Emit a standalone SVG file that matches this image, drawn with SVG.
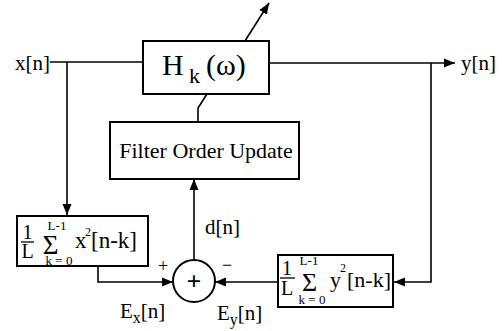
<svg xmlns="http://www.w3.org/2000/svg" width="502" height="331" viewBox="0 0 502 331">
<style>
.box{fill:#fff;stroke:#000;stroke-width:2}
.ln{fill:none;stroke:#000;stroke-width:1.6}
text{font-family:'Liberation Serif','Times New Roman',serif;fill:#000}
.t{font-size:21px}
.sm{font-size:13px}
</style>
<defs>
<marker id="ar" markerUnits="userSpaceOnUse" markerWidth="12" markerHeight="10" refX="11" refY="5" orient="auto">
<path d="M0,0.5 L11,5 L0,9.5 Z" fill="#000"/>
</marker>
</defs>
<rect width="502" height="331" fill="#fff"/>
<g id="connectors">
<path class="ln" d="M50,62 H143"/>
<path class="ln" d="M67,62 V215" marker-end="url(#ar)"/>
<path class="ln" d="M269,63 H455" marker-end="url(#ar)"/>
<path class="ln" d="M431,63 V282 H394" marker-end="url(#ar)"/>
<path class="ln" d="M278,282 H215" marker-end="url(#ar)"/>
<path class="ln" d="M98,266 V282 H173" marker-end="url(#ar)"/>
<path class="ln" d="M194,260 V179" marker-end="url(#ar)"/>
<path class="ln" d="M207,94 L198,108 V122"/>
<path class="ln" d="M245,41 L269,3" marker-end="url(#ar)"/>
</g>
<g id="input"><text class="t" x="15" y="70">x[n]</text></g>
<g id="output"><text class="t" x="461" y="70">y[n]</text></g>
<g id="filter">
<rect class="box" x="143" y="41" width="126" height="53"/>
<text x="162" y="75" font-size="30">H</text>
<text x="189" y="83" font-size="22">k</text>
<text x="206" y="75" font-size="30">(ω)</text>
</g>
<g id="update">
<rect class="box" x="110" y="122" width="189" height="57"/>
<text x="206" y="158" font-size="22" text-anchor="middle">Filter Order Update</text>
</g>
<g id="xpower">
<rect class="box" x="17" y="216" width="131" height="50"/>
<text x="27.5" y="239" font-size="20" text-anchor="middle">1</text>
<line x1="21" y1="242" x2="34" y2="242" stroke="#000" stroke-width="1.3"/>
<text x="27.5" y="258" font-size="20" text-anchor="middle">L</text>
<text x="50.5" y="254" font-size="27" text-anchor="middle">Σ</text>
<text x="57" y="230" class="sm" text-anchor="middle">L-1</text>
<text x="59" y="265" class="sm" text-anchor="middle">k = 0</text>
<text x="75" y="248" font-size="23">x</text>
<text x="85" y="236" font-size="12">2</text>
<text x="91" y="248" font-size="23">[n-k]</text>
</g>
<g id="ypower">
<rect class="box" x="278" y="255" width="115" height="52"/>
<text x="287" y="275" font-size="20" text-anchor="middle">1</text>
<line x1="280" y1="278" x2="295" y2="278" stroke="#000" stroke-width="1.3"/>
<text x="287" y="295" font-size="20" text-anchor="middle">L</text>
<text x="309.5" y="291" font-size="26" text-anchor="middle">Σ</text>
<text x="309" y="265" class="sm" text-anchor="middle">L-1</text>
<text x="312" y="304" class="sm" text-anchor="middle">k = 0</text>
<text x="330" y="287" font-size="22">y</text>
<text x="340" y="272" font-size="12">2</text>
<text x="347" y="287" font-size="22">[n-k]</text>
</g>
<g id="sum">
<circle cx="194" cy="281" r="21" fill="#fff" stroke="#000" stroke-width="2"/>
<text x="194" y="290" font-size="26" font-weight="bold" text-anchor="middle">+</text>
<text x="163" y="272" font-size="18" text-anchor="middle">+</text>
<text x="227" y="271" font-size="18" text-anchor="middle">−</text>
</g>
<g id="labels">
<text class="t" x="205" y="234">d[n]</text>
<text x="120" y="318" class="t">E<tspan font-size="16" dy="5">x</tspan><tspan dy="-5">[n]</tspan></text>
<text x="217" y="320" class="t">E<tspan font-size="16" dy="5">y</tspan><tspan dy="-5">[n]</tspan></text>
</g>
</svg>
